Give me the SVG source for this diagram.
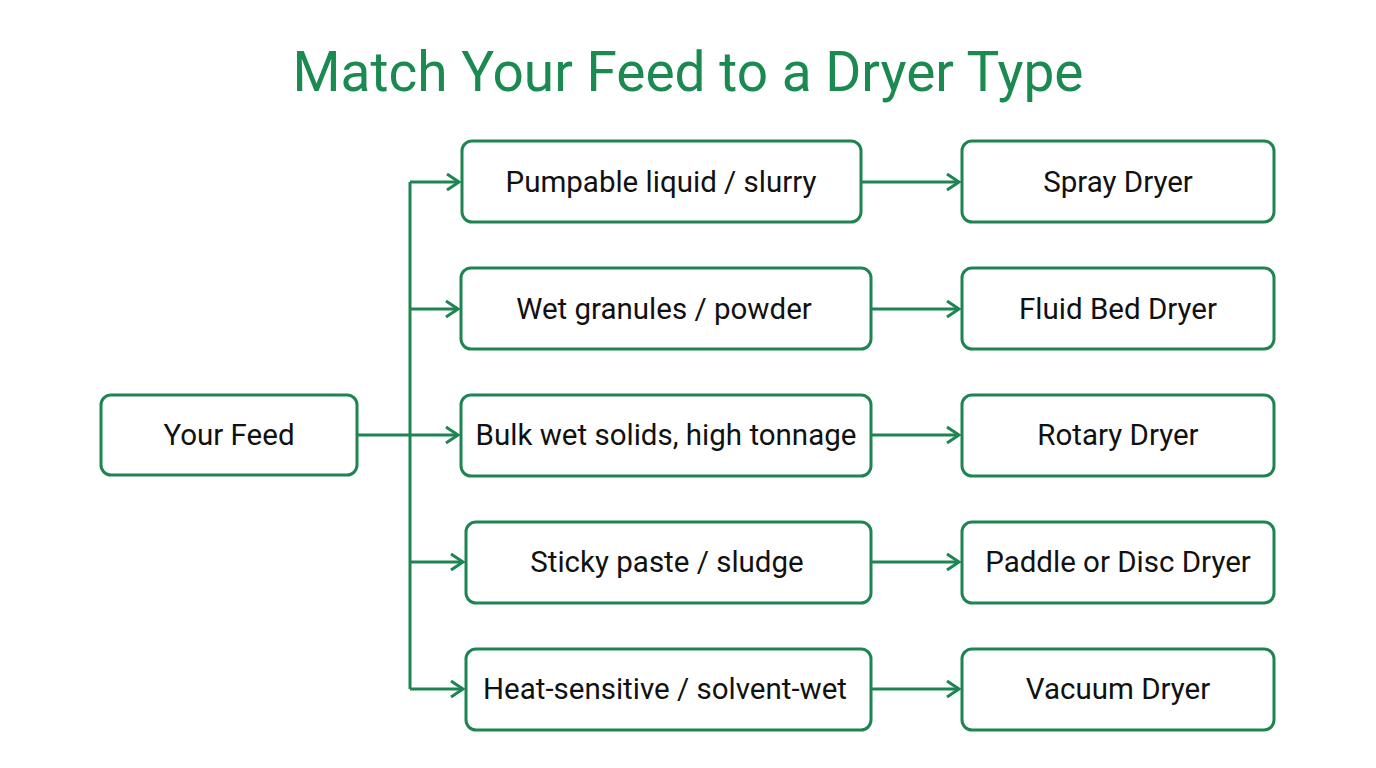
<svg xmlns="http://www.w3.org/2000/svg" width="1376" height="768" viewBox="0 0 1376 768">
<style>
.box{fill:#fff;stroke:#1e8552;stroke-width:3}
.t{font-family:Roboto,"Liberation Sans",sans-serif;font-size:29.5px;fill:#111;text-anchor:middle;dominant-baseline:central}
.c{stroke:#1e8552;stroke-width:3;fill:none}
</style>
<defs><marker id="a" markerWidth="18" markerHeight="20" refX="15" refY="10" orient="auto" markerUnits="userSpaceOnUse"><path d="M3,2 L15,10 L3,18" fill="none" stroke="#1e8552" stroke-width="3"/></marker></defs>
<rect width="1376" height="768" fill="#fff"/>
<text x="688" y="72" font-family="Roboto,'Liberation Sans',sans-serif" font-size="55" fill="#1a8a50" text-anchor="middle" dominant-baseline="central">Match Your Feed to a Dryer Type</text>
<g id="connectors">
<path class="c" d="M357,435 H410 M410,182 V689"/>
<path class="c" marker-end="url(#a)" d="M410,182 H459"/>
<path class="c" marker-end="url(#a)" d="M410,309 H458"/>
<path class="c" marker-end="url(#a)" d="M410,435 H458"/>
<path class="c" marker-end="url(#a)" d="M410,562 H463"/>
<path class="c" marker-end="url(#a)" d="M410,689 H463"/>
<path class="c" marker-end="url(#a)" d="M861,182 H959"/>
<path class="c" marker-end="url(#a)" d="M871,309 H959"/>
<path class="c" marker-end="url(#a)" d="M871,435 H959"/>
<path class="c" marker-end="url(#a)" d="M871,562 H959"/>
<path class="c" marker-end="url(#a)" d="M871,689 H959"/>
</g>
<g id="feed"><rect class="box" x="101" y="395" width="256" height="80" rx="10"/><text class="t" x="229" y="435">Your Feed</text></g>
<g id="m1"><rect class="box" x="462" y="141" width="399" height="81" rx="10"/><text class="t" x="661" y="182">Pumpable liquid / slurry</text></g>
<g id="m2"><rect class="box" x="461" y="268" width="410" height="81" rx="10"/><text class="t" x="664" y="309">Wet granules / powder</text></g>
<g id="m3"><rect class="box" x="461" y="395" width="410" height="81" rx="10"/><text class="t" x="666" y="435">Bulk wet solids, high tonnage</text></g>
<g id="m4"><rect class="box" x="466" y="522" width="405" height="81" rx="10"/><text class="t" x="667" y="562">Sticky paste / sludge</text></g>
<g id="m5"><rect class="box" x="466" y="649" width="405" height="81" rx="10"/><text class="t" x="665" y="689">Heat-sensitive / solvent-wet</text></g>
<g id="r1"><rect class="box" x="962" y="141" width="312" height="81" rx="10"/><text class="t" x="1118" y="182">Spray Dryer</text></g>
<g id="r2"><rect class="box" x="962" y="268" width="312" height="81" rx="10"/><text class="t" x="1118" y="309">Fluid Bed Dryer</text></g>
<g id="r3"><rect class="box" x="962" y="395" width="312" height="81" rx="10"/><text class="t" x="1118" y="435">Rotary Dryer</text></g>
<g id="r4"><rect class="box" x="962" y="522" width="312" height="81" rx="10"/><text class="t" x="1118" y="562">Paddle or Disc Dryer</text></g>
<g id="r5"><rect class="box" x="962" y="649" width="312" height="81" rx="10"/><text class="t" x="1118" y="689">Vacuum Dryer</text></g>
</svg>
